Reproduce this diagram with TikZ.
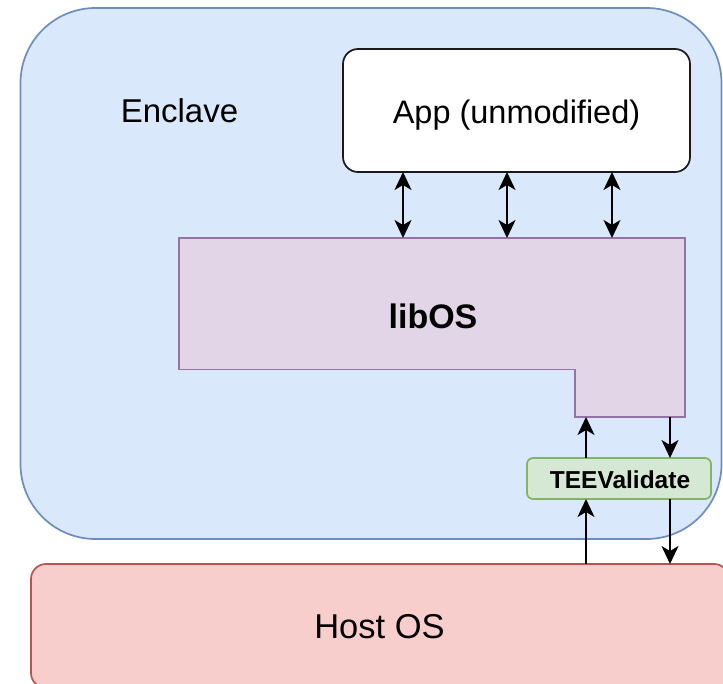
\documentclass[tikz,border=0pt]{standalone}
\usepackage{fontspec}
\setmainfont{Liberation Sans}
\usetikzlibrary{arrows.meta}
\definecolor{encfill}{HTML}{DAE8FC}
\definecolor{encdraw}{HTML}{6C8EBF}
\definecolor{libfill}{HTML}{E1D5E7}
\definecolor{libdraw}{HTML}{9673A6}
\definecolor{teefill}{HTML}{D5E8D4}
\definecolor{teedraw}{HTML}{82B366}
\definecolor{hostfill}{HTML}{F8CECC}
\definecolor{hostdraw}{HTML}{B85450}
\definecolor{appdraw}{HTML}{1A1A1A}
\tikzset{
  boxstyle/.style={line width=1.7pt, inner sep=0pt, outer sep=0pt},
  bigtext/.style={font=\fontsize{33}{38}\selectfont, anchor=base, inner sep=0pt},
  conn/.style={line width=1.7pt, -{Stealth[length=18pt,width=17pt,inset=5pt]}},
  dconn/.style={line width=1.7pt, {Stealth[length=18pt,width=17pt,inset=5pt]}-{Stealth[length=18pt,width=17pt,inset=5pt]}}
}
\begin{document}
\begin{tikzpicture}[x=1pt,y=-1pt]
\useasboundingbox (0,0) rectangle (723,684);
\clip (0,0) rectangle (723,684);
% Enclave
\node[boxstyle, draw=encdraw, fill=encfill, rounded corners=75pt,
      minimum width=701pt, minimum height=531pt] (enclave) at (371,273.5) {};
\node[bigtext] (enclavelabel) at (179.5,123) {Enclave};
% Host OS
\node[boxstyle, draw=hostdraw, fill=hostfill, rounded corners=15pt,
      minimum width=698pt, minimum height=124pt] (host) at (380,626) {};
\node[bigtext, font=\fontsize{34.5}{40}\selectfont] (hostlabel) at (379.5,638.5) {Host OS};
% App
\node[boxstyle, draw=appdraw, fill=white, rounded corners=15pt,
      minimum width=347pt, minimum height=123pt] (app) at (516.5,110.5) {};
\node[bigtext, font=\fontsize{32.5}{38}\selectfont] (applabel) at (516.5,123.5) {App (unmodified)};
% libOS
\draw[boxstyle, draw=libdraw, fill=libfill]
  (179,238) -- (685,238) -- (685,417) -- (575,417) -- (575,369.5) -- (179,369.5) -- cycle;
\node[bigtext, font=\bfseries\fontsize{34}{40}\selectfont] (libos) at (433,328.5) {libOS};
\coordinate (lt1) at (403,238);
\coordinate (lt2) at (507,238);
\coordinate (lt3) at (612,238);
\coordinate (lb1) at (586,417);
\coordinate (lb2) at (670,417);
% TEEValidate
\node[boxstyle, draw=teedraw, fill=teefill, rounded corners=6pt,
      minimum width=184pt, minimum height=41pt] (tee) at (619,478.5) {};
\node[anchor=base, inner sep=0pt, font=\bfseries\fontsize{24.5}{29}\selectfont] (teelabel) at (620,488.5) {TEEValidate};
% connectors
\draw[dconn] (app.south -| lt1) -- (lt1);
\draw[dconn] (app.south -| lt2) -- (lt2);
\draw[dconn] (app.south -| lt3) -- (lt3);
\draw[conn] (tee.north -| lb1) -- (lb1);
\draw[conn] (lb2) -- (tee.north -| lb2);
\draw[conn] (host.north -| lb1) -- (tee.south -| lb1);
\draw[conn] (tee.south -| lb2) -- (host.north -| lb2);
\end{tikzpicture}
\end{document}
